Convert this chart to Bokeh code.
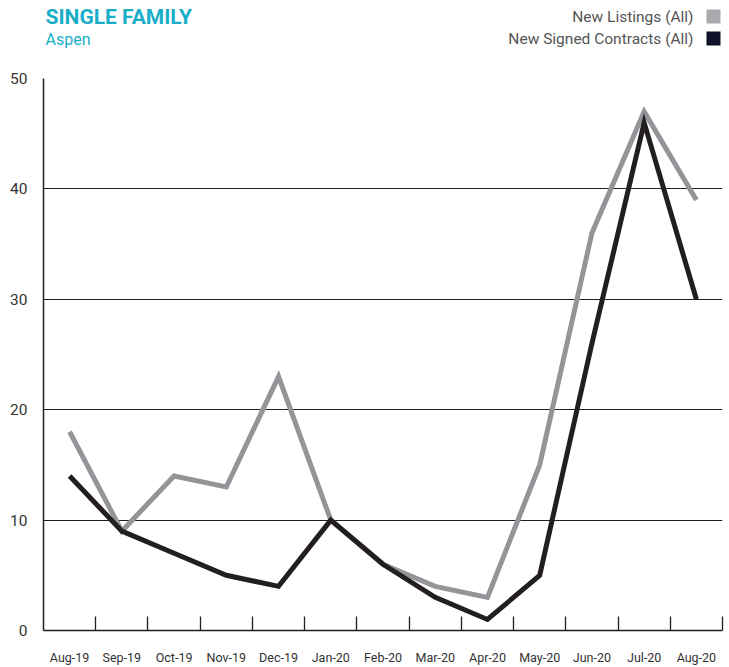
from bokeh.plotting import figure
from bokeh.models import Range1d, FixedTicker, ColumnDataSource
from bokeh.layouts import column
from bokeh.core.properties import value
from bokeh.embed import file_html
from bokeh.resources import INLINE

months = ["Aug-19", "Sep-19", "Oct-19", "Nov-19", "Dec-19", "Jan-20", "Feb-20",
          "Mar-20", "Apr-20", "May-20", "Jun-20", "Jul-20", "Aug-20"]
new_listings = [18, 9, 14, 13, 23, 10, 6, 4, 3, 15, 36, 47, 39]
new_contracts = [14, 9, 7, 5, 4, 10, 6, 3, 1, 5, 26, 46, 30]
y_ticks = [0, 10, 20, 30, 40, 50]
series_names = ["New Listings (All)", "New Signed Contracts (All)"]
series_colors = ["#939598", "#231f20"]
legend_colors = ["#a7a9ac", "#0e1128"]
title_text = "SINGLE FAMILY"
subtitle_text = "Aspen"

FONT = "Roboto"
W = 729
HEAD_H = 64
CHART_H = 667 - HEAD_H
BL, BR = 43, 7
FW = W - BL - BR  # frame width in px

# ---------- header (title + legend) ----------
head = figure(width=W, height=HEAD_H, output_backend="svg", toolbar_location=None,
              x_range=Range1d(0, FW), y_range=Range1d(HEAD_H, 0),
              min_border_left=BL, min_border_right=BR, min_border_top=0,
              min_border_bottom=0, outline_line_color=None)
head.axis.visible = False
head.grid.visible = False
head.text(x=[2], y=[16.5], text=[title_text], text_font=value(FONT),
          text_font_style="bold", text_font_size="21px", text_color="#19aec8",
          text_baseline="middle", text_align="left")
head.text(x=[2], y=[38.5], text=[subtitle_text], text_font=value(FONT),
          text_font_size="16px", text_color="#19aec8",
          text_baseline="middle", text_align="left")
leg = ColumnDataSource(dict(x=[650, 650], y=[16, 38.5], t=series_names,
                            sx=[670, 670], sy=[16, 38], c=legend_colors))
head.text(x="x", y="y", text="t", source=leg, text_font=value(FONT),
          text_font_size="15.5px", text_color="#555555",
          text_baseline="middle", text_align="right")
head.scatter(x="sx", y="sy", source=leg, marker="square", size=14,
             fill_color="c", line_color=None)

# ---------- chart ----------
n = len(months)
xs = [i + 0.5 for i in range(n)]
p = figure(width=W, height=CHART_H, output_backend="svg", toolbar_location=None,
           x_range=Range1d(0, n), y_range=Range1d(0, 50),
           min_border_left=BL, min_border_right=BR, min_border_top=14,
           min_border_bottom=37, outline_line_color=None)

p.line(xs, new_listings, line_color=series_colors[0], line_width=5, line_join="miter")
p.line(xs, new_contracts, line_color=series_colors[1], line_width=5, line_join="miter")

p.xgrid.visible = False
p.ygrid.ticker = FixedTicker(ticks=y_ticks)
p.ygrid.grid_line_color = "#231f20"
p.ygrid.grid_line_width = 1

xa = p.xaxis[0]
xa.ticker = FixedTicker(ticks=xs, minor_ticks=list(range(1, n + 1)))
xa.major_label_overrides = {x: m for x, m in zip(xs, months)}
xa.major_tick_line_color = None
xa.minor_tick_in = 14
xa.minor_tick_out = 0
xa.minor_tick_line_color = "#231f20"
xa.minor_tick_line_width = 1.3
xa.axis_line_color = "#231f20"
xa.axis_line_width = 1.5
xa.major_label_standoff = 13
xa.major_label_text_font = FONT
xa.major_label_text_font_size = "12.5px"
xa.major_label_text_color = "#333333"

ya = p.yaxis[0]
ya.ticker = FixedTicker(ticks=y_ticks)
ya.major_tick_line_color = None
ya.minor_tick_line_color = None
ya.axis_line_color = "#231f20"
ya.axis_line_width = 1.5
ya.major_label_standoff = 10
ya.major_label_text_font = FONT
ya.major_label_text_font_size = "15.5px"
ya.major_label_text_color = "#333333"

layout = column(head, p, spacing=0)
open("out.html", "w").write(file_html(layout, INLINE))
